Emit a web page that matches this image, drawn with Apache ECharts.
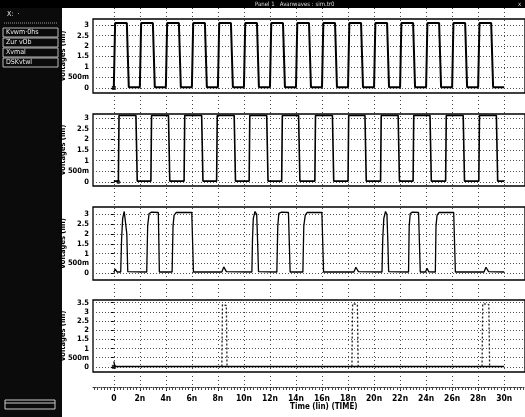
<!DOCTYPE html>
<html><head><meta charset="utf-8">
<script src="https://cdn.jsdelivr.net/npm/echarts@6/dist/echarts.min.js"></script>
<style>html,body{margin:0;padding:0;background:#fff}#c{width:525px;height:417px}</style>
</head><body><div id="c"></div>
<script>
// ---- data ----
const xTickValues = [0,2,4,6,8,10,12,14,16,18,20,22,24,26,28,30];
const xTickLabels = ['0','2n','4n','6n','8n','10n','12n','14n','16n','18n','20n','22n','24n','26n','28n','30n'];
const yTickValues = [0,0.5,1,1.5,2,2.5,3];
const yTickLabels = ['0','500m','1','1.5','2','2.5','3'];
const y4TickValues = [0,0.5,1,1.5,2,2.5,3,3.5];
const y4TickLabels = ['0','500m','1','1.5','2','2.5','3','3.5'];
const simEnd = 30;

// panel 1: clock, rising edges (ns)
const p1Rises = [0,2,4,6,8,10,12,14,16,18,20,22,24,26,28];
const p1High = 3.1, p1Low = 0.03;

// panel 2: rising / falling edges (ns)
const p2Rises = [0.35,2.85,5.4,7.9,10.4,12.9,15.45,18.0,20.5,23.0,25.5,28.05];
const p2Falls = [1.7,4.2,6.75,9.25,11.75,14.2,16.8,19.3,21.85,24.3,26.85,29.4];
const p2High = 3.12, p2Low = 0.04;

// panel 3: traced points [ns, V]
const p3Points = [
 [0,0.05],[0.1,0.2],[0.25,0.06],
 [0.53,0.06],[0.6,1.8],[0.68,2.8],[0.8,3.15],[0.95,3.05],[1.0,2.0],[1.07,0.08],
 [2.53,0.06],[2.6,2.4],[2.71,3.05],[2.9,3.12],[3.42,3.1],[3.5,0.06],
 [4.48,0.06],[4.55,2.4],[4.63,2.95],[4.8,3.1],[5.99,3.1],[6.12,0.06],
 [8.3,0.06],[8.45,0.32],[8.65,0.08],
 [10.61,0.06],[10.66,1.8],[10.72,2.8],[10.85,3.15],[10.98,3.0],[11.05,1.6],[11.12,0.08],
 [12.53,0.06],[12.6,2.4],[12.68,3.05],[12.9,3.12],[13.42,3.1],[13.55,0.06],
 [14.53,0.06],[14.6,2.4],[14.71,2.95],[14.85,3.1],[15.99,3.1],[16.12,0.06],
 [18.45,0.06],[18.6,0.3],[18.8,0.08],
 [20.61,0.06],[20.67,1.8],[20.75,2.8],[20.88,3.15],[20.99,3.0],[21.06,1.6],[21.12,0.08],
 [22.65,0.06],[22.7,2.4],[22.78,3.05],[22.95,3.12],[23.42,3.1],[23.55,0.06],
 [23.95,0.06],[24.07,0.25],[24.2,0.07],
 [24.71,0.06],[24.76,2.4],[24.84,2.95],[25.0,3.1],[26.12,3.1],[26.25,0.06],
 [28.45,0.06],[28.6,0.3],[28.8,0.08],
 [30,0.06]
];

// panel 4: baseline and glitch points [ns, V]
const p4Baseline = [[0,0.3],[0.08,0.02],[30,0.02]];
const p4Spikes = [
 [[8.3,0.02],[8.35,3.4],[8.65,3.35],[8.7,0.02]],
 [[18.3,0.02],[18.35,3.45],[18.72,3.4],[18.78,0.02]],
 [[28.3,0.02],[28.35,3.45],[28.82,3.4],[28.88,0.02]]
];

// ---- build traces ----
const p1Data = [[0,p1Low]];
p1Rises.forEach(r => { p1Data.push([r,p1Low],[r+0.1,p1High],[r+1.0,p1High],[r+1.15,p1Low]); });
p1Data.push([simEnd,p1Low]);

const p2Data = [[0,p2Low]];
p2Rises.forEach((r,i) => { p2Data.push([r,p2Low],[r+0.05,p2High],[p2Falls[i],p2High],[p2Falls[i]+0.1,p2Low]); });
p2Data.push([simEnd,p2Low]);

const p4SpikeData = [];
p4Spikes.forEach((s,i) => { if (i) p4SpikeData.push(null); s.forEach(pt => p4SpikeData.push(pt)); });

const minorTicks = [];
for (let t = -1.5; t <= 31.5; t += 0.25) minorTicks.push(t);

const FONT = "'Liberation Sans Narrow','DejaVu Sans Condensed','Liberation Sans',sans-serif";
const XMIN = -1.6, XMAX = 31.6;
const labelFor = (vals, labs) => v => { const i = vals.findIndex(x => Math.abs(x - v) < 1e-6); return i < 0 ? '' : labs[i]; };

const panels = [
  {top:19, height:74, min:-0.24, max:3.29, ticks:yTickValues, labels:yTickLabels, data:p1Data, w:2},
  {top:114, height:72, min:-0.19, max:3.19, ticks:yTickValues, labels:yTickLabels, data:p2Data, w:1.6},
  {top:207, height:73, min:-0.35, max:3.38, ticks:yTickValues, labels:yTickLabels, data:p3Points, w:1.3},
  {top:300, height:72, min:-0.28, max:3.65, ticks:y4TickValues, labels:y4TickLabels, data:p4Baseline, w:1.3}
];

const grid = panels.map(p => ({left:93, right:0, top:p.top, height:p.height, show:true, borderColor:'#000', borderWidth:1.3, backgroundColor:'transparent'}));
grid.push({left:93, right:0, top:8, height:379, show:false});

const xAxis = panels.map((p,i) => ({gridIndex:i, type:'value', min:XMIN, max:XMAX, show:false}));
xAxis.push({
  gridIndex:4, type:'value', min:XMIN, max:XMAX, position:'bottom',
  axisLine:{show:false},
  axisTick:{show:true, customValues:xTickValues, length:4, lineStyle:{color:'#000'}},
  axisLabel:{customValues:xTickValues, formatter:labelFor(xTickValues, xTickLabels), margin:7, color:'#000', fontSize:8.5, fontWeight:'bold', fontFamily:FONT},
  splitLine:{show:true, lineStyle:{color:'#444', type:[1,3], width:1}}
});
xAxis.push({
  gridIndex:4, type:'value', min:XMIN, max:XMAX, position:'bottom',
  axisLine:{show:true, lineStyle:{color:'#333', type:[1,1], width:1}},
  axisTick:{show:true, customValues:minorTicks, length:3, lineStyle:{color:'#444'}},
  axisLabel:{show:false}, splitLine:{show:false}
});

const yAxis = panels.map((p,i) => ({
  gridIndex:i, type:'value', min:p.min, max:p.max,
  name:'Voltages (lin)', nameLocation:'middle', nameGap:26, nameRotate:90, nameMoveOverlap:false,
  nameTextStyle:{color:'#000', fontSize:7.5, fontWeight:'bold', fontFamily:FONT},
  axisLine:{show:false},
  axisTick:{show:true, customValues:p.ticks, length:3, lineStyle:{color:'#000'}},
  axisLabel:{customValues:p.ticks, formatter:labelFor(p.ticks, p.labels), margin:4, color:'#000', fontSize:7.5, fontWeight:'bold', fontFamily:FONT},
  splitLine:{show:true, lineStyle:{color:'#555', type:[1,2], width:1}}
}));
yAxis.push({gridIndex:4, type:'value', min:0, max:1, show:false});

const series = panels.map((p,i) => ({
  type:'line', xAxisIndex:i, yAxisIndex:i, data:p.data, symbol:'none',
  lineStyle:{color:'#000', width:p.w}, silent:true
}));
series.push({type:'line', xAxisIndex:3, yAxisIndex:3, data:p4SpikeData, symbol:'none', connectNulls:false,
  lineStyle:{color:'#222', width:1.3, type:[2,2]}, silent:true});
series.push({type:'scatter', xAxisIndex:0, yAxisIndex:0, data:[[0,0]], symbol:'rect', symbolSize:4, itemStyle:{color:'#000'}, silent:true});
series.push({type:'scatter', xAxisIndex:1, yAxisIndex:1, data:[[0.35,0]], symbol:'circle', symbolSize:4, itemStyle:{color:'#000'}, silent:true});
series.push({type:'scatter', xAxisIndex:3, yAxisIndex:3, data:[[0,0]], symbol:'rect', symbolSize:4, itemStyle:{color:'#000'}, silent:true});

const side = (y, txt) => ([
  {type:'rect', shape:{x:3, y:y, width:55, height:9}, style:{fill:'none', stroke:'#bbb', lineWidth:1}},
  {type:'text', x:6, y:y+1, style:{text:txt, fill:'#eee', fontSize:7, fontFamily:FONT}}
]);

const graphics = [
  {type:'rect', shape:{x:0, y:0, width:62, height:417}, style:{fill:'#0b0b0b'}, z:-10},
  {type:'rect', shape:{x:0, y:0, width:525, height:8}, style:{fill:'#000'}},
  {type:'text', x:255, y:1, style:{text:'Panel 1   Avanwaves : sim.tr0', fill:'#ddd', fontSize:6, fontFamily:FONT}},
  {type:'text', x:518, y:1, style:{text:'x', fill:'#ddd', fontSize:6, fontFamily:FONT}},
  {type:'text', x:7, y:11, style:{text:'X:  ·', fill:'#eee', fontSize:7, fontFamily:FONT}},
  {type:'line', shape:{x1:4, y1:23, x2:58, y2:23}, style:{stroke:'#999', lineWidth:1, lineDash:[1,1]}},
  ...side(28, 'Kvwm·0hs'),
  ...side(38, 'Zur vOb'),
  ...side(48, 'Xvmal'),
  ...side(58, 'DSKvtwl'),
  {type:'rect', shape:{x:5, y:400, width:50, height:9}, style:{fill:'none', stroke:'#ccc', lineWidth:1}},
  {type:'line', shape:{x1:5, y1:403, x2:55, y2:403}, style:{stroke:'#ccc', lineWidth:1}},
  {type:'text', x:290, y:403, style:{text:'Time (lin) (TIME)', fill:'#000', fontSize:8, fontWeight:'bold', fontFamily:FONT}}
];

const chart = echarts.init(document.getElementById('c'), null, {renderer:'canvas'});
chart.setOption({
  animation:false,
  backgroundColor:'#fff',
  grid, xAxis, yAxis, series,
  graphic: graphics
});
</script></body></html>
